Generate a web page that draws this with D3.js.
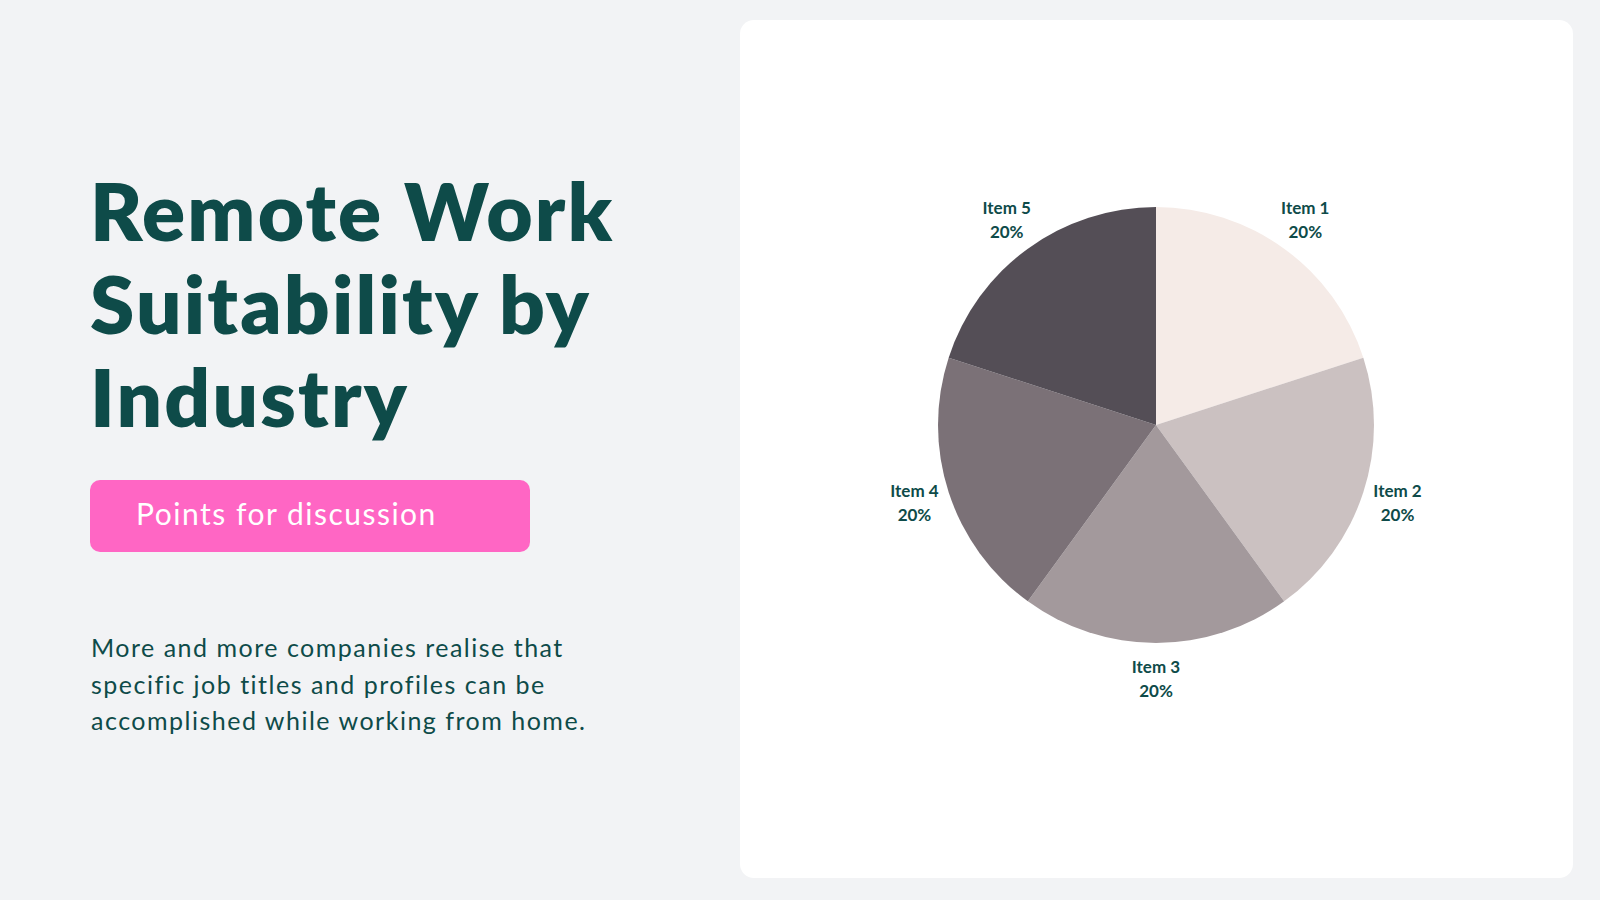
<!DOCTYPE html>
<html>
<head>
<meta charset="utf-8">
<script src="https://cdn.jsdelivr.net/npm/d3@7"></script>
<style>
  html, body { margin: 0; padding: 0; background: #f2f3f5; }
  svg { display: block; }
</style>
</head>
<body>
<div id="chart"></div>
<script>
// chart data
var items = ["Item 1", "Item 2", "Item 3", "Item 4", "Item 5"]
var shares = [20, 20, 20, 20, 20]
var sliceColors = ["#f5ebe7", "#cbc1c1", "#a3999c", "#7b7177", "#544e56"]

// page texts
var titleLines = ["Remote Work", "Suitability by", "Industry"]
var buttonText = "Points for discussion"
var bodyLines = ["More and more companies realise that",
                 "specific job titles and profiles can be",
                 "accomplished while working from home."]

var width = 1600
var height = 900
var teal = "#0e4b49"

var svg = d3.select("#chart")
            .append("svg")
            .attr("width", width)
            .attr("height", height)

svg.append("rect")
   .attr("width", width)
   .attr("height", height)
   .attr("fill", "#f2f3f5")

// title
svg.append("g")
   .selectAll("text")
   .data(titleLines)
   .enter()
   .append("text")
   .attr("x", 90)
   .attr("y", (d, i) => 241 + i * 93)
   .attr("fill", teal)
   .style("font-family", "Lato, 'Open Sans', sans-serif")
   .style("font-weight", 800)
   .style("font-size", "80px")
   .style("letter-spacing", "2.2px")
   .text(d => d)

// pink button
svg.append("rect")
   .attr("x", 90)
   .attr("y", 480)
   .attr("width", 440)
   .attr("height", 72)
   .attr("rx", 10)
   .attr("fill", "#ff66c4")

svg.append("text")
   .attr("x", 136)
   .attr("y", 525)
   .attr("fill", "#ffffff")
   .style("font-family", "Lato, 'Open Sans', sans-serif")
   .style("font-size", "30px")
   .style("letter-spacing", "1.5px")
   .text(buttonText)

// body text
svg.append("g")
   .selectAll("text")
   .data(bodyLines)
   .enter()
   .append("text")
   .attr("x", 91)
   .attr("y", (d, i) => 657 + i * 36.7)
   .attr("fill", teal)
   .style("font-family", "Lato, 'Open Sans', sans-serif")
   .style("font-size", "25px")
   .style("letter-spacing", "1.5px")
   .text(d => d)

// white card
svg.append("rect")
   .attr("x", 740)
   .attr("y", 20)
   .attr("width", 833)
   .attr("height", 858)
   .attr("rx", 14)
   .attr("fill", "#ffffff")

// pie
var cx = 1156, cy = 425, radius = 218

var color = d3.scaleOrdinal().domain(items).range(sliceColors)

var pie = d3.pie().sort(null).value(d => d.value)
var arcs = pie(items.map((d, i) => ({name: d, value: shares[i]})))
var total = d3.sum(shares)

var arc = d3.arc().innerRadius(0).outerRadius(radius)
var labelArc = d3.arc().innerRadius(radius * 1.165).outerRadius(radius * 1.165)

var g = svg.append("g").attr("transform", "translate(" + cx + "," + cy + ")")

g.selectAll("path")
 .data(arcs)
 .enter()
 .append("path")
 .attr("d", arc)
 .attr("fill", d => color(d.data.name))

var labels = g.selectAll(".label")
              .data(arcs)
              .enter()
              .append("text")
              .attr("class", "label")
              .attr("transform", d => "translate(" + labelArc.centroid(d) + ")")
              .attr("text-anchor", "middle")
              .attr("fill", teal)
              .style("font-family", "Lato, sans-serif")
              .style("font-weight", 700)
              .style("font-size", "17px")

labels.append("tspan")
      .attr("x", 0)
      .attr("y", -6)
      .text(d => d.data.name)

labels.append("tspan")
      .attr("x", 0)
      .attr("y", 18)
      .text(d => d3.format(".0%")(d.data.value / total))
</script>
</body>
</html>
